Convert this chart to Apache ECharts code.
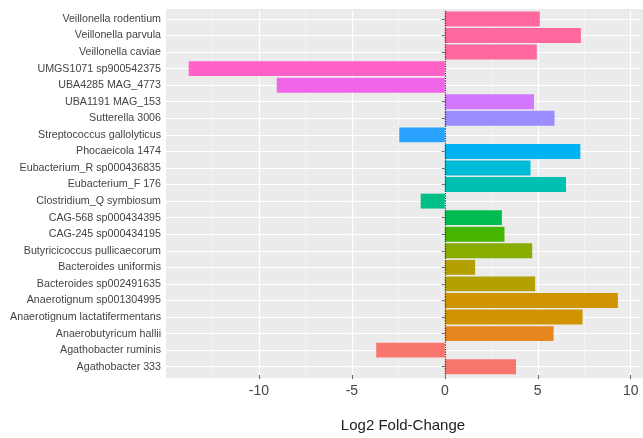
<!DOCTYPE html>
<html>
<head>
<meta charset="utf-8">
<script src="https://cdn.jsdelivr.net/npm/echarts@6/dist/echarts.min.js"></script>
<style>
  html, body { margin: 0; padding: 0; background: #ffffff; }
  #chart { width: 643px; height: 438px; }
</style>
</head>
<body>
<div id="chart"></div>
<script>
// Taxa, top to bottom
const taxa = [
  'Veillonella rodentium',
  'Veillonella parvula',
  'Veillonella caviae',
  'UMGS1071 sp900542375',
  'UBA4285 MAG_4773',
  'UBA1191 MAG_153',
  'Sutterella 3006',
  'Streptococcus gallolyticus',
  'Phocaeicola 1474',
  'Eubacterium_R sp000436835',
  'Eubacterium_F 176',
  'Clostridium_Q symbiosum',
  'CAG-568 sp000434395',
  'CAG-245 sp000434195',
  'Butyricicoccus pullicaecorum',
  'Bacteroides uniformis',
  'Bacteroides sp002491635',
  'Anaerotignum sp001304995',
  'Anaerotignum lactatifermentans',
  'Anaerobutyricum hallii',
  'Agathobacter ruminis',
  'Agathobacter 333'
];

// Log2 fold-change per taxon
const log2fc = [
  5.11, 7.32, 4.95, -13.78, -9.04, 4.80, 5.90, -2.45, 7.29, 4.61, 6.52,
  -1.30, 3.07, 3.21, 4.70, 1.63, 4.86, 9.31, 7.41, 5.85, -3.69, 3.83
];

// x-axis tick labels
const xTicks = [-10, -5, 0, 5, 10];

// HCL -> hex (hue palette with c = 100, l = 65)
function hcl(h, c, l) {
  const hr = h * Math.PI / 180;
  const u = c * Math.cos(hr), v = c * Math.sin(hr);
  const Xn = 95.047, Yn = 100, Zn = 108.883;
  const den = Xn + 15 * Yn + 3 * Zn;
  const un = 4 * Xn / den, vn = 9 * Yn / den;
  const Y = Yn * Math.pow((l + 16) / 116, 3);
  const up = u / (13 * l) + un, vp = v / (13 * l) + vn;
  const X = Y * 9 * up / (4 * vp);
  const Z = Y * (12 - 3 * up - 20 * vp) / (4 * vp);
  const x = X / 100, y = Y / 100, z = Z / 100;
  const lin = [
    3.2404542 * x - 1.5371385 * y - 0.4985314 * z,
    -0.9692660 * x + 1.8760108 * y + 0.0415560 * z,
    0.0556434 * x - 0.2040259 * y + 1.0572252 * z
  ];
  return '#' + lin.map(function (ch) {
    let g = ch <= 0.0031308 ? 12.92 * ch : 1.055 * Math.pow(ch, 1 / 2.4) - 0.055;
    g = Math.max(0, Math.min(1, g));
    return Math.round(g * 255).toString(16).padStart(2, '0');
  }).join('');
}

// One colour per genus, genera in alphabetical order
const genusOf = taxa.map(function (t) { return t.split(' ')[0]; });
const genera = Array.from(new Set(genusOf)).sort();
const genusColor = {};
genera.forEach(function (g, i) {
  const h = 15 + 360 * i / genera.length;
  genusColor[g] = hcl(h, 100, 65);
});

const barData = log2fc.map(function (v, i) {
  return { value: v, itemStyle: { color: genusColor[genusOf[i]] } };
});

// Panel box (grey background) and the category grid inset by the
// 0.6-band expansion at each end so rows sit like a discrete scale
const W = 643, H = 438;
const panel = { left: 166, top: 9, right: 643, bottom: 378 };
const nCat = taxa.length;
const band = (panel.bottom - panel.top) / (nCat + 0.2);
const inset = 0.1 * band;

const chart = echarts.init(document.getElementById('chart'), null, { renderer: 'canvas' });

chart.setOption({
  animation: false,
  backgroundColor: '#ffffff',
  graphic: [{
    type: 'rect',
    z: -10,
    silent: true,
    shape: {
      x: panel.left, y: panel.top,
      width: panel.right - panel.left, height: panel.bottom - panel.top
    },
    style: { fill: '#EBEBEB' }
  }],
  grid: {
    left: panel.left, right: W - panel.right,
    top: panel.top + inset, bottom: H - panel.bottom + inset,
    show: false
  },
  xAxis: {
    type: 'value',
    min: -15, max: 10.5, interval: 5,
    name: 'Log2 Fold-Change',
    nameLocation: 'middle',
    nameGap: 43,
    nameTextStyle: { fontFamily: 'Liberation Sans', fontSize: 15, color: '#222' },
    axisLine: { show: false },
    axisTick: {
      show: true, length: 4, customValues: xTicks,
      lineStyle: { color: '#666', width: 1 }
    },
    axisLabel: {
      margin: 9,
      fontFamily: 'Liberation Sans', fontSize: 14, color: '#444',
      formatter: function (v) { return xTicks.indexOf(v) >= 0 ? String(v) : ''; }
    },
    splitLine: { show: true, lineStyle: { color: '#ffffff', width: 1.2 } },
    minorTick: { show: false, splitNumber: 2 },
    minorSplitLine: { show: true, lineStyle: { color: '#F6F6F6', width: 0.7 } }
  },
  yAxis: {
    type: 'category',
    data: taxa,
    inverse: true,
    axisLine: { show: false },
    axisTick: { show: true, alignWithLabel: true, length: 3, lineStyle: { color: '#666', width: 1 } },
    axisLabel: { margin: 5, fontFamily: 'Liberation Sans', fontSize: 10.7, color: '#444' },
    splitLine: { show: true, alignWithLabel: true, lineStyle: { color: '#ffffff', width: 1.2 } }
  },
  series: [{
    type: 'bar',
    data: barData,
    barWidth: '90%',
    markLine: {
      silent: true,
      symbol: 'none',
      label: { show: false },
      lineStyle: { color: '#333', type: 'dotted', width: 1.2 },
      data: [{ xAxis: 0 }]
    }
  }]
});
</script>
</body>
</html>
